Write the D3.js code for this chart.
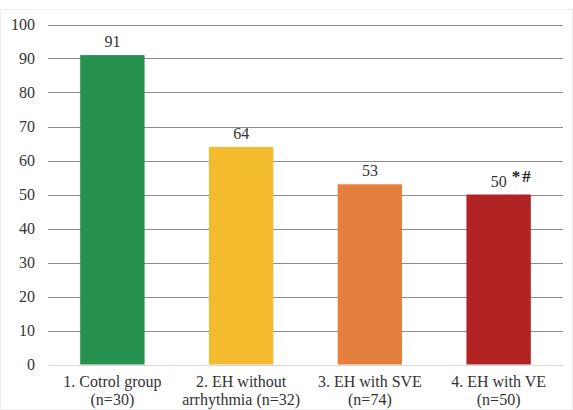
<!DOCTYPE html>
<html><head><meta charset="utf-8"><script src="https://cdn.jsdelivr.net/npm/d3@7"></script></head><body style="margin:0">
<script>
const categories = [["1. Cotrol group","(n=30)"],["2. EH without","arrhythmia (n=32)"],["3. EH with SVE","(n=74)"],["4. EH with VE","(n=50)"]];
const values = [91,64,53,50];
const colors = ["#26914C","#F4BB2E","#E57F3D","#B22424"];
const annotations = ["","","","*#"];
const yTicks = [0,10,20,30,40,50,60,70,80,90,100];

const W=573,H=410;
const FONT="Liberation Serif";
const FSTYLE="font-family:'Liberation Serif','Times New Roman',serif !important";
const svg=d3.select("body").append("svg").attr("width",W).attr("height",H).style("display","block");
svg.append("rect").attr("x",0.5).attr("y",9.5).attr("width",W-1).attr("height",H-10).attr("fill","none").attr("stroke","#eeeeee");
const m={left:48,right:10,top:24.5,bottom:45.5};
const x=d3.scaleBand().domain(d3.range(values.length)).range([m.left,W-m.right]).paddingInner(0.5).paddingOuter(0.25);
const y=d3.scaleLinear().domain([0,100]).range([H-m.bottom,m.top]);

svg.selectAll("line.grid").data(yTicks).join("line").attr("class","grid")
 .attr("x1",m.left).attr("x2",W-m.right)
 .attr("y1",d=>Math.round(y(d))+0.5).attr("y2",d=>Math.round(y(d))+0.5)
 .attr("stroke",d=>d===0?"#d9d9d9":"#8c8c8c").attr("stroke-width",1);
svg.selectAll("text.yt").data(yTicks).join("text").attr("class","yt")
 .attr("font-family",FONT).attr("style",FSTYLE)
 .attr("x",35).attr("y",d=>y(d)).attr("dy","0.35em").attr("text-anchor","end")
 .attr("font-size",16).attr("fill","#333").text(d=>d);

svg.selectAll("rect.bar").data(values).join("rect").attr("class","bar")
 .attr("x",(d,i)=>x(i)).attr("width",x.bandwidth())
 .attr("y",d=>y(d)).attr("height",d=>y(0)-y(d)).attr("fill",(d,i)=>colors[i]);

svg.selectAll("text.val").data(values).join("text").attr("class","val")
 .attr("font-family",FONT).attr("style",FSTYLE)
 .attr("x",(d,i)=>x(i)+x.bandwidth()/2).attr("y",d=>y(d)-8).attr("text-anchor","middle")
 .attr("font-size",16).attr("fill","#333").text(d=>d);

svg.selectAll("text.ann").data(annotations).join("text").attr("class","ann")
 .attr("font-family",FONT).attr("style",FSTYLE)
 .attr("x",(d,i)=>x(i)+x.bandwidth()/2+13).attr("y",(d,i)=>y(values[i])-13)
 .attr("font-size",17).attr("font-weight","bold").attr("fill","#222").attr("letter-spacing",2).text(d=>d);

categories.forEach((d,i)=>{
  d.forEach((s,k)=>{
    svg.append("text").attr("class","cat").attr("font-family",FONT).attr("style",FSTYLE)
      .attr("text-anchor","middle").attr("font-size",16).attr("fill","#333")
      .attr("x",x(i)+x.bandwidth()/2).attr("y",H-23+k*18).text(s);
  });
});
</script>
</body></html>
